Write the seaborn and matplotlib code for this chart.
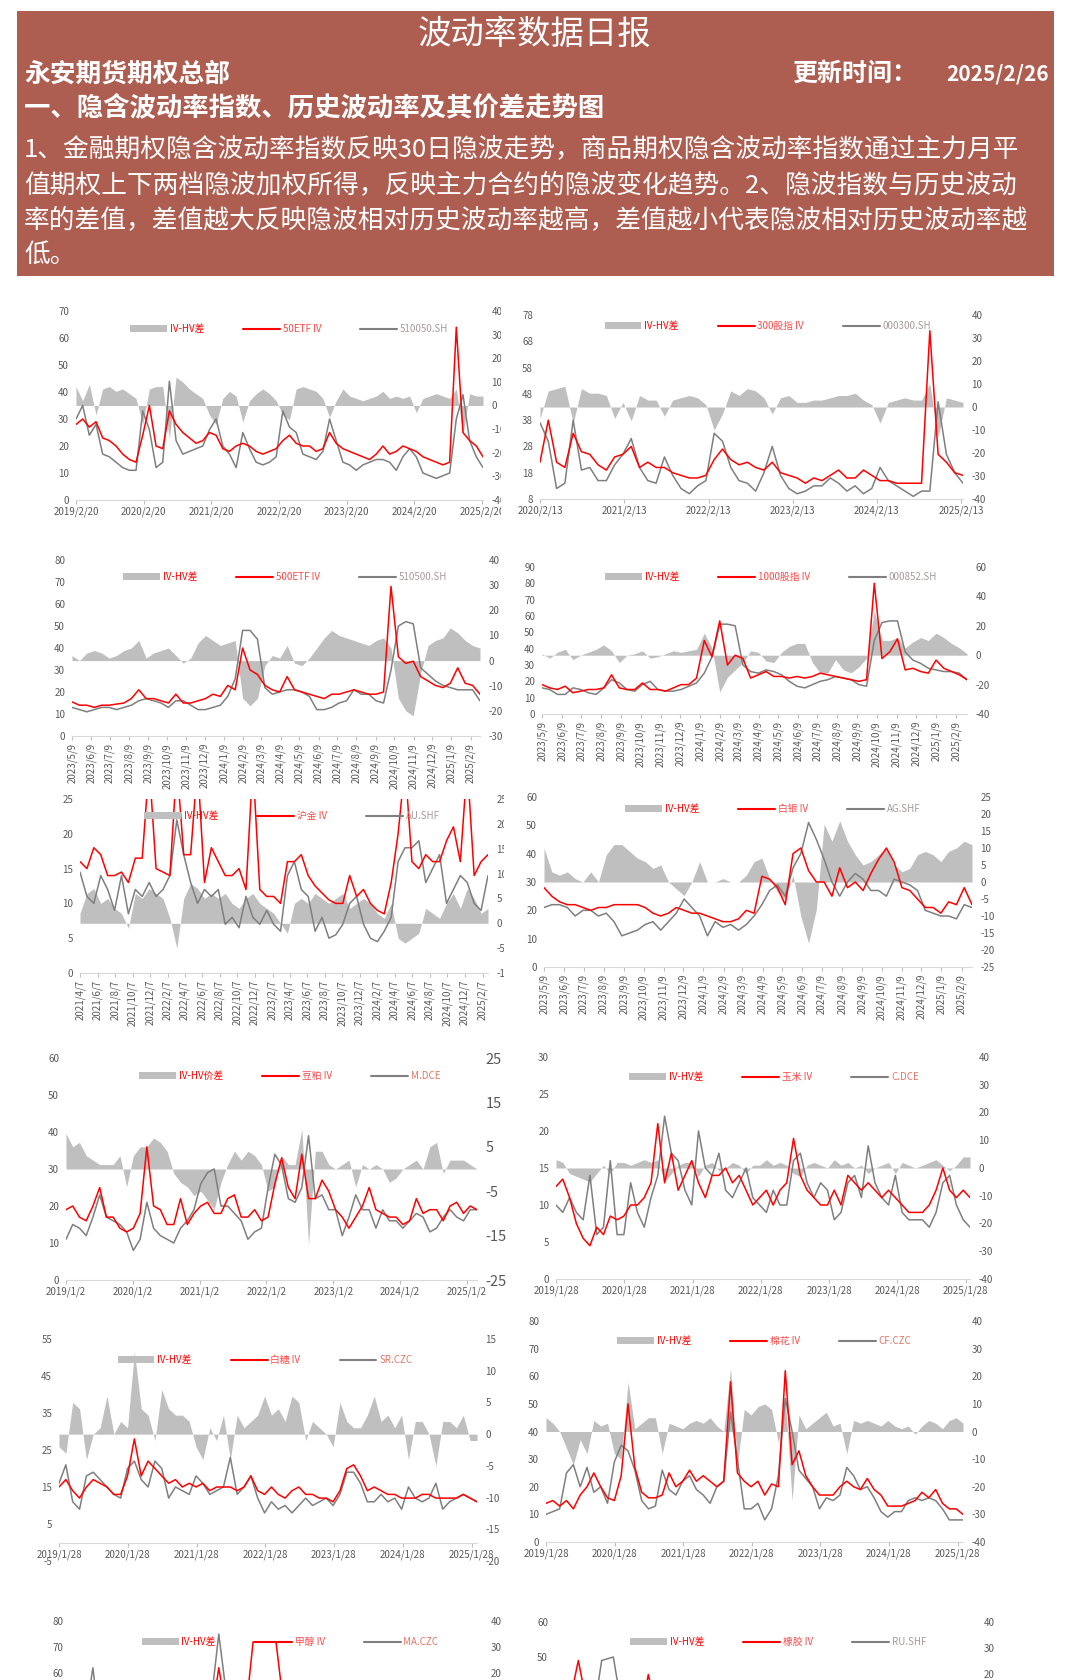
import pandas as pd
import matplotlib
matplotlib.use("Agg")
import matplotlib.pyplot as plt
import seaborn as sns
from matplotlib.patches import Patch, Rectangle
from matplotlib.lines import Line2D
from matplotlib.transforms import Bbox, TransformedBbox

# 50ETF
etf50_iv = [28, 30, 27, 29, 23, 22, 20, 17, 15, 14, 24, 35, 20, 19, 33, 28, 25, 23, 21, 22,
            25, 24, 19, 18, 20, 21, 20, 18, 17, 18, 19, 22, 24, 21, 20, 20, 18, 19, 25, 21,
            19, 18, 17, 16, 15, 17, 20, 17, 18, 20, 19, 18, 16, 15, 14, 13, 14, 64, 25, 22, 20, 16]
etf50_hv = [30, 35, 24, 28, 17, 16, 14, 12, 11, 11, 33, 26, 12, 14, 44, 22, 17, 18, 19, 20,
            26, 30, 20, 17, 12, 25, 19, 14, 13, 14, 16, 33, 27, 25, 17, 16, 15, 18, 30, 22,
            14, 13, 11, 13, 14, 15, 15, 14, 11, 16, 19, 16, 10, 9, 8, 9, 10, 30, 39, 22, 16, 12]
etf50_diff = [8, 2, 9, -4, 7, 8, 6, 7, 5, 3, -8, 7, 8, 8, -14, 12, 10, 7, 5, 3,
              -4, -8, 3, 6, 4, -7, 2, 5, 7, 5, 2, -4, -6, 7, 8, 7, 6, 3, -5, 2,
              7, 4, 3, 2, 3, 4, 6, 3, 4, 3, 4, -3, 3, 4, 5, 4, 3, 7, -12, 5, 4, 4]

# 300股指
hs300_iv = [22, 38, 22, 20, 33, 26, 25, 21, 19, 24, 25, 28, 20, 22, 20, 20, 18, 17, 16, 16,
            17, 23, 27, 23, 21, 22, 20, 19, 22, 18, 17, 16, 14, 16, 15, 17, 19, 16, 16, 19,
            17, 15, 15, 14, 14, 14, 14, 72, 25, 22, 18, 17]
hs300_hv = [37, 30, 12, 14, 38, 19, 20, 15, 15, 21, 25, 31, 20, 15, 14, 24, 17, 12, 10, 13,
            15, 33, 30, 20, 15, 14, 11, 18, 28, 17, 12, 10, 11, 13, 13, 16, 14, 11, 13, 10,
            12, 20, 15, 13, 11, 9, 11, 11, 45, 25, 18, 14]
hs300_diff = [-5, 7, 8, 9, -7, 8, 6, 6, 5, -5, 2, -6, 5, 3, 3, -4, 3, 4, 5, 4,
              1, -10, -3, 7, 5, 8, 7, 4, -3, 4, 5, 2, 2, 3, 3, 4, 5, 5, 6, 3,
              1, -7, 2, 3, 4, 3, 3, 10, -13, 4, 3, 2]

# 500ETF
etf500_iv = [15.5, 14, 14, 13, 14, 14, 14.5, 15, 17, 21, 17, 17, 16, 15, 19, 15, 15, 16, 17, 19,
             18, 23, 21, 40, 30, 28, 23, 21, 20, 27, 21, 20, 19, 18, 17, 19, 19, 20, 21, 20,
             19, 19, 20, 68, 36, 33, 34, 27, 25, 23, 22, 24, 31, 24, 23, 19]
etf500_hv = [13, 12, 11, 12, 13, 13, 12, 13, 14, 16, 17, 16, 15, 13, 16, 16, 14, 12, 12, 13,
             14, 18, 26, 48, 48, 44, 22, 19, 20, 21, 21, 20, 18, 12, 12, 13, 15, 16, 21, 19,
             19, 16, 15, 30, 50, 52, 51, 31, 28, 25, 23, 22, 21, 21, 21, 16]
etf500_diff = [2, 0, 3, 4, 3, 1, 2, 4, 5, 8, 1, 3, 4, 5, 2, -1, 1, 7, 10, 8,
               6, 7, 8, -15, -18, -15, -2, 2, 1, 6, -1, -2, 1, 5, 9, 12, 10, 9, 8, 7,
               6, 8, 9, 5, -15, -20, -22, -5, 6, 8, 9, 13, 11, 8, 6, 5]

# 1000股指
csi1000_iv = [18, 16, 15, 17, 13, 14, 15, 15, 16, 24, 16, 15, 15, 19, 15, 15, 14, 16, 18, 18,
              22, 45, 35, 57, 30, 36, 34, 22, 24, 26, 23, 23, 22, 23, 22, 23, 25, 24, 23, 22,
              21, 20, 21, 80, 34, 38, 46, 27, 28, 26, 25, 33, 28, 26, 24, 21]
csi1000_hv = [16, 15, 12, 12, 16, 15, 13, 12, 16, 21, 19, 15, 14, 18, 20, 15, 14, 14, 15, 17,
              19, 25, 35, 55, 55, 54, 30, 26, 25, 27, 26, 24, 20, 17, 16, 18, 20, 21, 23, 22,
              21, 18, 17, 45, 56, 57, 57, 38, 33, 31, 28, 27, 26, 26, 25, 21]
csi1000_diff = [1, -2, 2, 4, -3, 0, 2, 4, 7, 3, -5, 0, 1, 3, -2, -1, 1, 3, 2, 3,
                4, 15, 5, -25, -15, -10, -5, 3, 2, -4, -5, 2, 6, 8, 8, -5, -12, -12, -3, -10,
                -12, -8, -2, 30, 10, 10, 12, 5, 9, 12, 10, 15, 12, 8, 5, 1]

# 沪金
gold_iv = [16, 15, 18, 17, 14, 14, 14.5, 13, 16.5, 16.5, 30, 15, 14.5, 14, 30, 17, 17, 30, 13, 18,
           16, 14, 14, 15, 12, 30, 12, 11, 11, 10, 16, 16, 17, 14, 12.5, 11.5, 10.5, 10, 10, 14,
           11, 12, 10, 9, 8.5, 13, 20, 30, 16, 15, 17, 16, 16, 19, 21, 16, 30, 14, 16, 17]
gold_hv = [14.5, 11, 10, 14, 12, 9, 14, 8.5, 12, 11, 13, 11, 12, 14, 22, 17, 13, 10, 12, 11,
           12, 7, 8, 6.5, 11, 8, 7, 9, 7, 6, 14, 16, 12, 11, 6, 8, 5, 5.5, 7, 10,
           11, 7, 5, 4.5, 6, 8, 16, 18, 18, 19, 13, 15, 17, 10, 12, 14, 13, 10, 9, 14]
gold_diff = [2, 6, 7, 4, 5, 3, 2, -1, 6, 5, 7, 6, 5, 1, -5, 5, 8, 7, 5, 6,
             5, 6, 4, 3, 5, 6, 4, 3, 2, 0, -2, 4, 5, 4, 6, 5, 4, 5, 6, 3,
             4, 5, 4, 2, 1, 4, -3, -4, -3, -2, 3, 2, 1, 4, 6, 3, 7, 5, 2, 3]

# 白银
silver_iv = [28, 25, 23, 22, 22, 21, 20, 21, 21, 22, 22, 22, 22, 21, 19, 18, 19, 21, 20, 19,
             19, 18, 17, 16, 16, 17, 20, 19, 32, 31, 28, 22, 40, 42, 34, 30, 30, 25, 35, 28,
             30, 27, 33, 38, 42, 37, 28, 27, 24, 21, 21, 19, 23, 22, 28, 22]
silver_hv = [21, 22, 22, 21, 18, 20, 20, 18, 19, 16, 11, 12, 13, 15, 16, 13, 16, 19, 24, 21,
             18, 11, 16, 14, 15, 13, 15, 18, 22, 27, 29, 25, 35, 40, 51, 45, 38, 30, 25, 30,
             33, 31, 27, 27, 25, 31, 30, 29, 27, 20, 19, 18, 18, 17, 22, 21]
silver_diff = [10, 3, 2, 3, 1, 0, 3, 0, 8, 11, 11, 9, 7, 6, 4, 5, 0, -2, -4, 0,
               6, 0, 0, 1, 0, 0, 2, 6, 7, 1, -3, -5, 2, -10, -18, -8, 17, 12, 18, 12,
               8, 5, 6, 8, 10, 5, 3, 4, 8, 9, 8, 6, 9, 10, 12, 11]

# 豆粕
meal_iv = [19, 20, 17, 16, 20, 25, 17, 17, 14, 13, 14, 18, 36, 20, 19, 15, 15, 22, 15, 18,
           20, 21, 18, 18, 22, 23, 17, 17, 19, 16, 17, 26, 33, 25, 22, 34, 22, 22, 27, 24,
           19, 17, 14, 17, 20, 25, 19, 18, 17, 17, 15, 16, 22, 18, 19, 19, 16, 20, 21, 18, 20, 19]
meal_hv = [11, 15, 14, 12, 17, 23, 17, 16, 15, 13, 8, 11, 21, 14, 12, 11, 10, 14, 16, 19,
           26, 29, 30, 20, 20, 18, 16, 11, 13, 14, 25, 34, 31, 22, 21, 25, 39, 22, 23, 19,
           19, 12, 17, 23, 19, 19, 14, 19, 16, 16, 14, 16, 18, 17, 13, 14, 17, 19, 17, 16, 19, 19]
meal_diff = [8, 5, 6, 3, 2, 1, 1, 1, 3, -4, 3, 5, 5, 7, 6, 4, -1, -3, -4, -6,
             -5, -7, -9, -3, 1, 4, 2, 4, 3, 1, -5, -4, 3, 1, 1, 9, -17, 4, 4, 1,
             0, 1, 2, -4, 1, 0, 1, 0, -3, -2, 0, 1, 2, 0, 5, 6, -1, 2, 2, 2, 1, 0]

# 玉米
corn_iv = [12.5, 13.5, 11, 7.5, 5.5, 4.5, 7, 6, 8.5, 8, 8.5, 10, 10, 11, 13, 21, 13, 17, 12, 14,
           16, 13, 11, 14, 14, 15, 13, 14, 12, 10, 11, 12, 10, 12, 13, 19, 14, 12, 11, 10,
           10, 12, 10, 14, 13, 12, 13, 12, 11, 12, 11, 10, 9, 9, 9, 10, 12, 15, 12, 11, 12, 11]
corn_hv = [10, 9, 11, 9, 8, 14, 6, 7, 16, 6, 6, 13, 9, 7, 11, 14, 22, 17, 16, 12,
           10, 20, 15, 14, 17, 12, 11, 13, 15, 11, 10, 9, 12, 10, 10, 16, 17, 13, 11, 13,
           12, 8, 9, 13, 14, 11, 18, 13, 11, 10, 14, 9, 8, 8, 8, 7, 9, 13, 14, 10, 8, 7]
corn_diff = [3, 2, -2, -3, -4, -5, -2, 1, -2, 2, 2, 1, 2, 3, 2, 3, -5, -2, 1, 2,
             2, -3, 1, 2, -1, 0, 2, 1, -2, 1, 1, 3, 1, 2, 1, -2, -3, 1, 2, 1,
             0, 3, 1, 2, 0, 1, -2, 0, 1, 2, -2, 2, 1, 0, 1, 2, 3, 1, -1, 1, 4, 4]

# 白糖
sugar_iv = [15, 17, 14, 12, 15, 17, 16, 15, 13, 13, 18, 28, 18, 22, 20, 18, 16, 17, 15, 16,
            15, 16, 14, 15, 15, 15, 14, 15, 18, 14, 13, 15, 13, 12, 14, 15, 13, 13, 12, 12,
            11, 14, 20, 21, 18, 14, 15, 14, 13, 13, 12, 12, 12, 13, 13, 12, 12, 12, 12, 13, 12, 11]
sugar_hv = [16, 21, 11, 9, 18, 19, 17, 15, 13, 12, 20, 22, 17, 15, 22, 20, 12, 15, 14, 13,
            18, 16, 13, 14, 15, 23, 13, 15, 18, 12, 8, 11, 9, 10, 8, 10, 12, 10, 11, 12,
            10, 13, 19, 19, 16, 11, 11, 13, 11, 12, 9, 15, 12, 11, 12, 16, 9, 11, 12, 13, 12, 11]
sugar_diff = [-2, -3, 5, 4, -4, 0, 1, 6, 0, 2, 1, 13, 4, 3, -1, 7, 4, 3, 3, 2,
              -2, -4, 1, -1, 3, -4, 3, 1, 2, 3, 6, 3, 4, 2, 6, 5, -1, 2, 1, 0,
              -2, 5, 2, 1, 1, 3, 6, 2, 3, 1, 3, -4, 2, 2, 0, -5, 2, 2, 1, 3, -1, -1]

# 棉花
cotton_iv = [14, 15, 13, 15, 12, 17, 20, 25, 20, 16, 15, 24, 50, 27, 18, 16, 16, 17, 25, 20,
             22, 26, 22, 24, 22, 20, 22, 58, 25, 22, 20, 22, 17, 21, 20, 62, 28, 33, 24, 20,
             17, 17, 17, 20, 22, 20, 19, 23, 19, 17, 13, 13, 13, 14, 15, 18, 16, 19, 14, 12, 12, 10]
cotton_hv = [10, 11, 12, 25, 28, 20, 27, 18, 20, 14, 29, 35, 33, 26, 15, 12, 13, 26, 19, 17,
             22, 24, 19, 17, 14, 20, 22, 47, 30, 12, 12, 14, 8, 12, 24, 52, 40, 26, 23, 20,
             12, 16, 15, 17, 27, 24, 19, 20, 16, 11, 9, 11, 11, 15, 16, 15, 16, 15, 12, 8, 8, 8]
cotton_diff = [5, 3, 0, -6, -12, -3, -8, 4, 2, 3, -8, -10, 18, 1, 3, 5, 5, -8, 3, 2,
               1, 3, 4, 3, 5, 2, 0, 23, -12, 8, 6, 9, 10, 8, -4, 12, -25, 6, 1, 3,
               5, 7, 2, 3, -8, 4, 3, 4, 3, 2, 4, 2, 1, 2, -1, 2, 4, 3, 1, 4, 5, 3]

# 甲醇 (bas coupé)
meoh_iv = [25, 28, 24, 22, 26, 30, 27, 24, 25, 26, 28, 30, 32, 62, 35, 30, 72, 72, 72, 35,
           30, 28, 26, 24, 25, 23, 22, 21, 24, 22, 20, 21, 22, 20, 21, 22, 21]
meoh_hv = [30, 33, 62, 25, 27, 31, 29, 26, 27, 28, 30, 33, 36, 75, 40, 33, 45, 50, 42, 38,
           32, 29, 27, 25, 26, 24, 23, 22, 25, 23, 21, 22, 23, 21, 22, 23, 22]
meoh_diff = [3, -2, -5, 4, 3, 2, 1, 3, 2, 1, 2, -1, -3, -8, -4, -2, 15, 12, 14, -3,
             0, 1, 2, 1, 2, 3, 1, 2, 1, 0, 1, 2, 1, 2, 1, 0, 1]

# 橡胶 (bas coupé)
rubber_iv = [30, 33, 49, 32, 30, 31, 28, 27, 45, 30, 28, 26, 27, 25, 24, 26, 28, 27, 26, 25,
             27, 29, 26, 25, 24, 26, 27, 28, 25, 24, 30, 32, 29, 27, 26, 25, 24]
rubber_hv = [25, 28, 30, 27, 49, 50, 30, 26, 28, 25, 22, 20, 22, 21, 20, 23, 24, 22, 21, 20,
             22, 25, 22, 21, 20, 22, 24, 25, 21, 20, 27, 28, 25, 23, 22, 21, 20]
rubber_diff = [5, 5, 15, 5, -19, -19, -2, 1, 12, 5, 6, 6, 5, 4, 4, 3, 4, 5, 5, 5,
               5, 4, 4, 4, 4, 4, 3, 3, 4, 4, 3, 4, 4, 4, 4, 4, 4]

para_lines = [
    "1、金融期权隐含波动率指数反映30日隐波走势，商品期权隐含波动率指数通过主力月平",
    "值期权上下两档隐波加权所得，反映主力合约的隐波变化趋势。2、隐波指数与历史波动",
    "率的差值，差值越大反映隐波相对历史波动率越高，差值越小代表隐波相对历史波动率越",
    "低。",
]

# 2. Style
sns.set_theme(style="white")
plt.rcParams['font.family'] = ['Noto Sans CJK SC', 'DejaVu Sans']
plt.rcParams['axes.unicode_minus'] = False

RED = "#FF0000"
GRAY = "#7F7F7F"
AREA = "#BFBFBF"
TICK = "#595959"
HEAD = "#AE5E51"
W, H = 1070, 1680

fig = plt.figure(figsize=(10.7, 16.8), dpi=100)


def box(x0, y0, x1, y1):
    return [x0 / W, 1 - y1 / H, (x1 - x0) / W, (y1 - y0) / H]


def fmt(d):
    return f"{d.year}/{d.month}/{d.day}"


def panel(rect, start, end, iv, hv, diff, lt, rt, xt, names, c3, leg,
          rot=0, rfs=7, clip=None, zero_axis=False, lshow=None, rshow=None, xlab=True):
    ax = fig.add_axes(box(*rect))
    ax2 = ax.twinx()
    ax.set_zorder(ax2.get_zorder() + 1)
    ax.patch.set_visible(False)
    x = pd.date_range(start, end, periods=len(iv))
    ax2.fill_between(x, 0, diff, color=AREA, linewidth=0)
    sns.lineplot(x=x, y=hv, ax=ax, color=GRAY, linewidth=1.1, estimator=None)
    sns.lineplot(x=x, y=iv, ax=ax, color=RED, linewidth=1.1, estimator=None)
    ax.set_xlabel("")
    ax.set_ylabel("")
    xt = pd.DatetimeIndex(xt)
    ax.set_xticks(xt)
    ax.set_xticklabels([fmt(d) for d in xt] if xlab else [""] * len(xt))
    ax.set_xlim(x[0], x[-1])
    ax.set_yticks(lshow if lshow is not None else lt)
    ax.set_ylim(lt[0], lt[-1])
    ax2.set_yticks(rshow if rshow is not None else rt)
    ax2.set_ylim(rt[0], rt[-1])
    for s in list(ax.spines.values()) + list(ax2.spines.values()):
        s.set_visible(False)
    ax.spines['bottom'].set_visible(True)
    ax.spines['bottom'].set_color("#D9D9D9")
    ax.spines['bottom'].set_linewidth(0.8)
    if zero_axis:
        ax.spines['bottom'].set_position(('data', 0))
    ax.tick_params(axis='y', left=False, right=False, length=0, labelsize=7,
                   labelcolor=TICK, pad=5)
    ax2.tick_params(axis='y', left=False, right=False, length=0, labelsize=rfs,
                    labelcolor=TICK, pad=6)
    ax.tick_params(axis='x', bottom=True, length=3, width=0.8, color="#BFBFBF",
                   labelsize=7, labelcolor=TICK, pad=2, labelrotation=rot)
    ax.grid(False)
    ax2.grid(False)

    handles = [Patch(facecolor=AREA, edgecolor='none'),
               Line2D([], [], color=RED, linewidth=1.5),
               Line2D([], [], color=GRAY, linewidth=1.5)]
    lg = ax.legend(handles, names, ncol=3, loc='center',
                   bbox_to_anchor=(leg[0] / W, 1 - leg[1] / H), bbox_transform=fig.transFigure,
                   frameon=False, fontsize=7, handlelength=3.8, handletextpad=0.3,
                   columnspacing=4.0, borderpad=0, borderaxespad=0)
    for t, c in zip(lg.get_texts(), [RED, "#FF4848", c3]):
        t.set_color(c)

    if clip is not None:
        cb = TransformedBbox(Bbox.from_extents(0, 0, clip / W, 1), fig.transFigure)
        for lab in ax2.get_yticklabels() + ax.get_xticklabels():
            lab.set_clip_on(True)
            lab.set_clip_box(cb)
    return ax, ax2


# 3. En-tête
fig.add_artist(Rectangle((17 / W, 1 - 276 / H), (1054 - 17) / W, (276 - 11) / H,
                         transform=fig.transFigure, facecolor=HEAD, edgecolor='none'))
fig.text(535 / W, 1 - 34 / H, "波动率数据日报", ha='center', va='center',
         fontsize=24, color='white')
fig.text(24 / W, 1 - 74 / H, "永安期货期权总部", ha='left', va='center',
         fontsize=18.5, color='white', fontweight='bold')
fig.text(792 / W, 1 - 74 / H, "更新时间：", ha='left', va='center',
         fontsize=18, color='white', fontweight='bold')
fig.text(1049 / W, 1 - 74 / H, "2025/2/26", ha='right', va='center',
         fontsize=15, color='white', fontweight='bold')
fig.text(24 / W, 1 - 108 / H, "一、隐含波动率指数、历史波动率及其价差走势图", ha='left', va='center',
         fontsize=19, color='white', fontweight='bold')
for i, line in enumerate(para_lines):
    fig.text(24 / W, 1 - (150 + 35 * i) / H, line, ha='left', va='center',
             fontsize=18.5, color='white')

# 4. Graphiques
def yearly(s, n=7):
    return pd.date_range(s, periods=n, freq=pd.DateOffset(years=1))


monthly = pd.date_range('2023-05-09', '2025-02-09', freq=pd.DateOffset(months=1))
bimonthly = pd.date_range('2021-04-07', '2025-02-07', freq=pd.DateOffset(months=2))
SALMON = "#E07868"
PALE = "#A89A9A"

panel((76, 311, 483, 500), '2019-02-20', '2025-02-26', etf50_iv, etf50_hv, etf50_diff,
      list(range(0, 71, 10)), list(range(-40, 41, 10)), yearly('2019-02-20'),
      ["IV-HV差", "50ETF IV", "510050.SH"], PALE, (289, 329), clip=501)
panel((540, 315, 963, 499), '2020-02-13', '2025-02-21', hs300_iv, hs300_hv, hs300_diff,
      list(range(8, 79, 10)), list(range(-40, 41, 10)), yearly('2020-02-13', 6),
      ["IV-HV差", "300股指 IV", "000300.SH"], PALE, (768, 326))
panel((72, 560, 480, 736), '2023-05-09', '2025-02-24', etf500_iv, etf500_hv, etf500_diff,
      list(range(0, 81, 10)), list(range(-30, 41, 10)), monthly,
      ["IV-HV差", "500ETF IV", "510500.SH"], PALE, (285, 577), rot=90)
panel((542, 567, 967, 714), '2023-05-09', '2025-02-26', csi1000_iv, csi1000_hv, csi1000_diff,
      list(range(0, 91, 10)), list(range(-40, 61, 20)), monthly,
      ["IV-HV差", "1000股指 IV", "000852.SH"], PALE, (771, 577), rot=90)
panel((80, 799, 488, 973), '2021-04-07', '2025-02-26', gold_iv, gold_hv, gold_diff,
      list(range(0, 26, 5)), list(range(-10, 26, 5)), bimonthly,
      ["IV-HV差", "沪金 IV", "AU.SHF"], PALE, (292, 816), rot=90, clip=504)
panel((544, 797, 972, 967), '2023-05-09', '2025-02-25', silver_iv, silver_hv, silver_diff,
      list(range(0, 61, 10)), list(range(-25, 26, 5)), monthly,
      ["IV-HV差", "白银 IV", "AG.SHF"], PALE, (773, 809), rot=90)
panel((66, 1058, 477, 1280), '2019-01-02', '2025-02-26', meal_iv, meal_hv, meal_diff,
      list(range(0, 61, 10)), list(range(-25, 26, 10)), yearly('2019-01-02'),
      ["IV-HV价差", "豆粕 IV", "M.DCE"], SALMON, (290, 1076), rfs=10.5)
panel((556, 1057, 970, 1279), '2019-01-28', '2025-02-20', corn_iv, corn_hv, corn_diff,
      list(range(0, 31, 5)), list(range(-40, 41, 10)), yearly('2019-01-28'),
      ["IV-HV差", "玉米 IV", "C.DCE"], SALMON, (774, 1077))
panel((59, 1339, 477, 1561), '2019-01-28', '2025-02-26', sugar_iv, sugar_hv, sugar_diff,
      list(range(-5, 56, 10)), list(range(-20, 16, 5)), yearly('2019-01-28'),
      ["IV-HV差", "白糖 IV", "SR.CZC"], SALMON, (265, 1360), zero_axis=True)
panel((546, 1321, 963, 1542), '2019-01-28', '2025-02-26', cotton_iv, cotton_hv, cotton_diff,
      list(range(0, 81, 10)), list(range(-40, 41, 10)), yearly('2019-01-28'),
      ["IV-HV差", "棉花 IV", "CF.CZC"], SALMON, (764, 1341))
panel((70, 1621, 482, 1829), '2019-01-28', '2025-02-26', meoh_iv, meoh_hv, meoh_diff,
      list(range(0, 81, 10)), list(range(-40, 41, 10)), yearly('2019-01-28'),
      ["IV-HV差", "甲醇 IV", "MA.CZC"], SALMON, (290, 1642),
      lshow=[60, 70, 80], rshow=[20, 30, 40], xlab=False)
panel((555, 1622, 975, 1832), '2019-01-28', '2025-02-26', rubber_iv, rubber_hv, rubber_diff,
      list(range(0, 61, 10)), list(range(-40, 41, 10)), yearly('2019-01-28'),
      ["IV-HV差", "橡胶 IV", "RU.SHF"], PALE, (778, 1642),
      lshow=[50, 60], rshow=[20, 30, 40], xlab=False)

plt.savefig("out.png", dpi=100)
